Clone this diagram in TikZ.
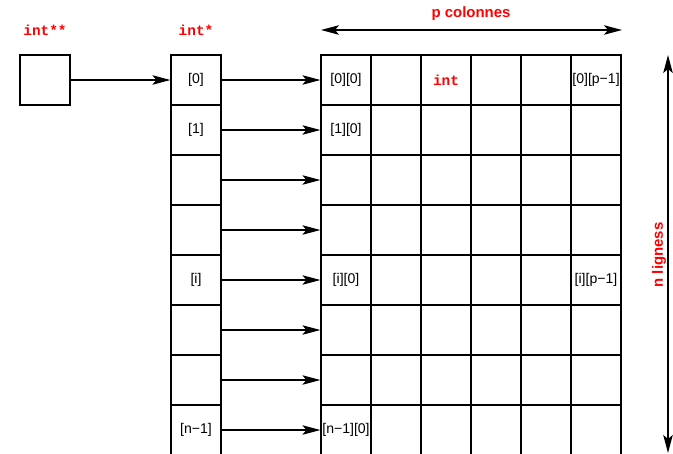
\documentclass[tikz,border=0pt]{standalone}
\usepackage{fontspec}
\setmainfont{Liberation Sans}
\setmonofont{Liberation Mono}
\usetikzlibrary{arrows.meta}

\begin{document}
\begin{tikzpicture}[>={Stealth[length=3.6mm, width=1.9mm, inset=0.8mm]}, line width=0.7pt,
    cell/.style={rectangle, draw, minimum width=1cm, minimum height=1cm, inner sep=0pt, font=\fontsize{8}{9}\selectfont},
    tname/.style={text=red, font=\fontsize{8.2}{9}\selectfont\ttfamily\bfseries},
    dim/.style={text=red, font=\fontsize{8.5}{10}\selectfont\bfseries}]
        \useasboundingbox (0,0) rectangle (13.46,-9.06);

        % Double pointer.
        \node[cell] (P) at (0.9,-1.6) {};
        \node[tname] (P-type) at (0.9,-0.6) {int**};

        % Pointer column.
        \foreach \i in {0,...,7}
            \node[cell] (R-\i) at (3.92,-1.6-\i) {};
        \node[tname] (R-type) at (3.92,-0.6) {int*};
        \node at (R-0) {\fontsize{8}{9}\selectfont [0]};
        \node at (R-1) {\fontsize{8}{9}\selectfont [1]};
        \node at (R-4) {\fontsize{8}{9}\selectfont [i]};
        \node at (R-7) {\fontsize{8}{9}\selectfont [n−1]};

        % Matrix.
        \foreach \i in {0,...,7}
            \foreach \j in {0,...,5}
                \node[cell] (M-\i-\j) at (6.92+\j,-1.6-\i) {};
        \node at (M-0-0) {\fontsize{8}{9}\selectfont [0][0]};
        \node[tname] at (M-0-2) {int};
        \node at (M-0-5) {\fontsize{8}{9}\selectfont [0][p−1]};
        \node at (M-1-0) {\fontsize{8}{9}\selectfont [1][0]};
        \node at (M-4-0) {\fontsize{8}{9}\selectfont [i][0]};
        \node at (M-4-5) {\fontsize{8}{9}\selectfont [i][p−1]};
        \node at (M-7-0) {\fontsize{8}{9}\selectfont [n−1][0]};

        % Pointer connections.
        \path[->] (P.east) edge (R-0.west);
        \foreach \i in {0,...,7}
            \path[->] (R-\i.east) edge (M-\i-0.west);

        % Sizes.
        \coordinate (cl) at (6.42,-0.6);
        \coordinate (cr) at (12.44,-0.6);
        \path[<->] (cl) edge (cr);
        \node[dim] (cols) at (9.42,-0.28) {p colonnes};
        \coordinate (lt) at (13.36,-1.1);
        \coordinate (lb) at (13.36,-9.06);
        \path[<->] (lt) edge (lb);
        \node[dim, rotate=90] (rows) at (13.18,-5.1) {n ligness};

    \end{tikzpicture}
\end{document}
